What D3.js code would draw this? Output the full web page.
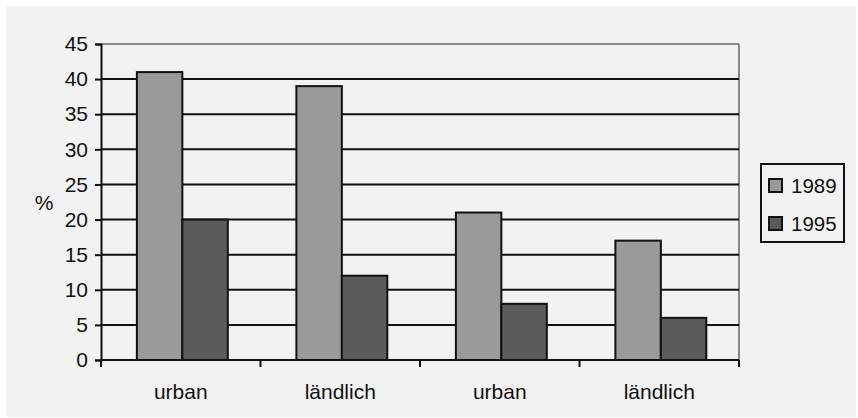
<!DOCTYPE html>
<html>
<head>
<meta charset="utf-8">
<script src="https://cdn.jsdelivr.net/npm/d3@7/dist/d3.min.js"></script>
<style>
  html, body { margin: 0; padding: 0; background: #ffffff; }
  svg { display: block; }
  text { font-family: "Liberation Sans", Arial, sans-serif; fill: #111; }
</style>
</head>
<body>
<svg id="chart" width="858" height="418"></svg>
<script>
// Chart data
const categories = ["urban", "ländlich", "urban", "ländlich"];
const seriesNames = ["1989", "1995"];
const values1989 = [41, 39, 21, 17];
const values1995 = [20, 12, 8, 6];
const yTicks = [0, 5, 10, 15, 20, 25, 30, 35, 40, 45];
const yLabel = "%";

const seriesValues = [values1989, values1995];
const seriesColors = ["#9a9a9a", "#5b5b5b"];
const fontFamily = '"Liberation Sans", Arial, sans-serif';

const svg = d3.select("#chart");

// Panel background
svg.append("rect")
  .attr("x", 7).attr("y", 6)
  .attr("width", 849).attr("height", 411)
  .attr("fill", "#f2f2f2");

const plot = { left: 101, right: 739, top: 44, bottom: 360 };

const x = d3.scaleBand()
  .domain(d3.range(categories.length))
  .range([plot.left, plot.right])
  .paddingInner(0)
  .paddingOuter(0);

const y = d3.scaleLinear()
  .domain([0, 45])
  .range([plot.bottom, plot.top]);

// Bar geometry within each category band
const xs = d3.scaleBand()
  .domain(d3.range(seriesNames.length))
  .range([x.bandwidth() * 0.225, x.bandwidth() * 0.795])
  .padding(0);

// Plot area border (top and right, gray)
svg.append("line")
  .attr("x1", plot.left).attr("x2", plot.right)
  .attr("y1", y(45)).attr("y2", y(45))
  .attr("stroke", "#8a8a8a").attr("stroke-width", 2);
svg.append("line")
  .attr("x1", plot.right).attr("x2", plot.right)
  .attr("y1", plot.top).attr("y2", plot.bottom)
  .attr("stroke", "#8a8a8a").attr("stroke-width", 2);

// Horizontal gridlines
svg.append("g")
  .selectAll("line")
  .data(yTicks.filter(t => t > 0 && t < 45))
  .join("line")
  .attr("x1", plot.left).attr("x2", plot.right)
  .attr("y1", d => y(d)).attr("y2", d => y(d))
  .attr("stroke", "#111").attr("stroke-width", 2);

// Bars
const groups = svg.append("g")
  .selectAll("g")
  .data(categories.map((c, i) => i))
  .join("g")
  .attr("transform", i => `translate(${x(i)},0)`);

groups.selectAll("rect")
  .data(i => seriesValues.map((vals, s) => ({ s, v: vals[i] })))
  .join("rect")
  .attr("x", d => xs(d.s))
  .attr("y", d => y(d.v))
  .attr("width", xs.bandwidth())
  .attr("height", d => y(0) - y(d.v))
  .attr("fill", d => seriesColors[d.s])
  .attr("stroke", "#111")
  .attr("stroke-width", 2);

// Y axis
const yAxis = svg.append("g")
  .attr("transform", `translate(${plot.left},0)`)
  .call(d3.axisLeft(y).tickValues(yTicks).tickSize(6).tickPadding(7));
yAxis.select(".domain").attr("stroke", "#111").attr("stroke-width", 2);
yAxis.selectAll(".tick line").attr("stroke", "#111").attr("stroke-width", 2);
yAxis.selectAll(".tick text")
  .attr("font-size", 21)
  .style("font-family", fontFamily)
  .attr("fill", "#111");

// X axis with ticks between categories
const xEdges = d3.range(categories.length + 1).map(i => plot.left + i * x.bandwidth());
svg.append("line")
  .attr("x1", plot.left - 1).attr("x2", plot.right)
  .attr("y1", plot.bottom).attr("y2", plot.bottom)
  .attr("stroke", "#111").attr("stroke-width", 2);
svg.append("g")
  .selectAll("line")
  .data(xEdges)
  .join("line")
  .attr("x1", d => d).attr("x2", d => d)
  .attr("y1", plot.bottom).attr("y2", plot.bottom + 7)
  .attr("stroke", "#111").attr("stroke-width", 2);
svg.append("g")
  .selectAll("text")
  .data(categories)
  .join("text")
  .attr("x", (d, i) => x(i) + x.bandwidth() / 2)
  .attr("y", 399)
  .attr("text-anchor", "middle")
  .attr("font-size", 21)
  .text(d => d);

// Y axis title
svg.append("text")
  .attr("x", 44).attr("y", 210)
  .attr("text-anchor", "middle")
  .attr("font-size", 21)
  .text(yLabel);

// Legend
const legend = svg.append("g");
legend.append("rect")
  .attr("x", 761).attr("y", 164)
  .attr("width", 83).attr("height", 78)
  .attr("fill", "#f2f2f2")
  .attr("stroke", "#111").attr("stroke-width", 2);
const items = legend.selectAll("g.item")
  .data(seriesNames)
  .join("g")
  .attr("class", "item")
  .attr("transform", (d, i) => `translate(0,${i * 38})`);
items.append("rect")
  .attr("x", 769).attr("y", 179)
  .attr("width", 13).attr("height", 13)
  .attr("fill", (d, i) => seriesColors[i])
  .attr("stroke", "#111").attr("stroke-width", 2);
items.append("text")
  .attr("x", 791).attr("y", 193)
  .attr("font-size", 20.5)
  .text(d => d);
</script>
</body>
</html>
